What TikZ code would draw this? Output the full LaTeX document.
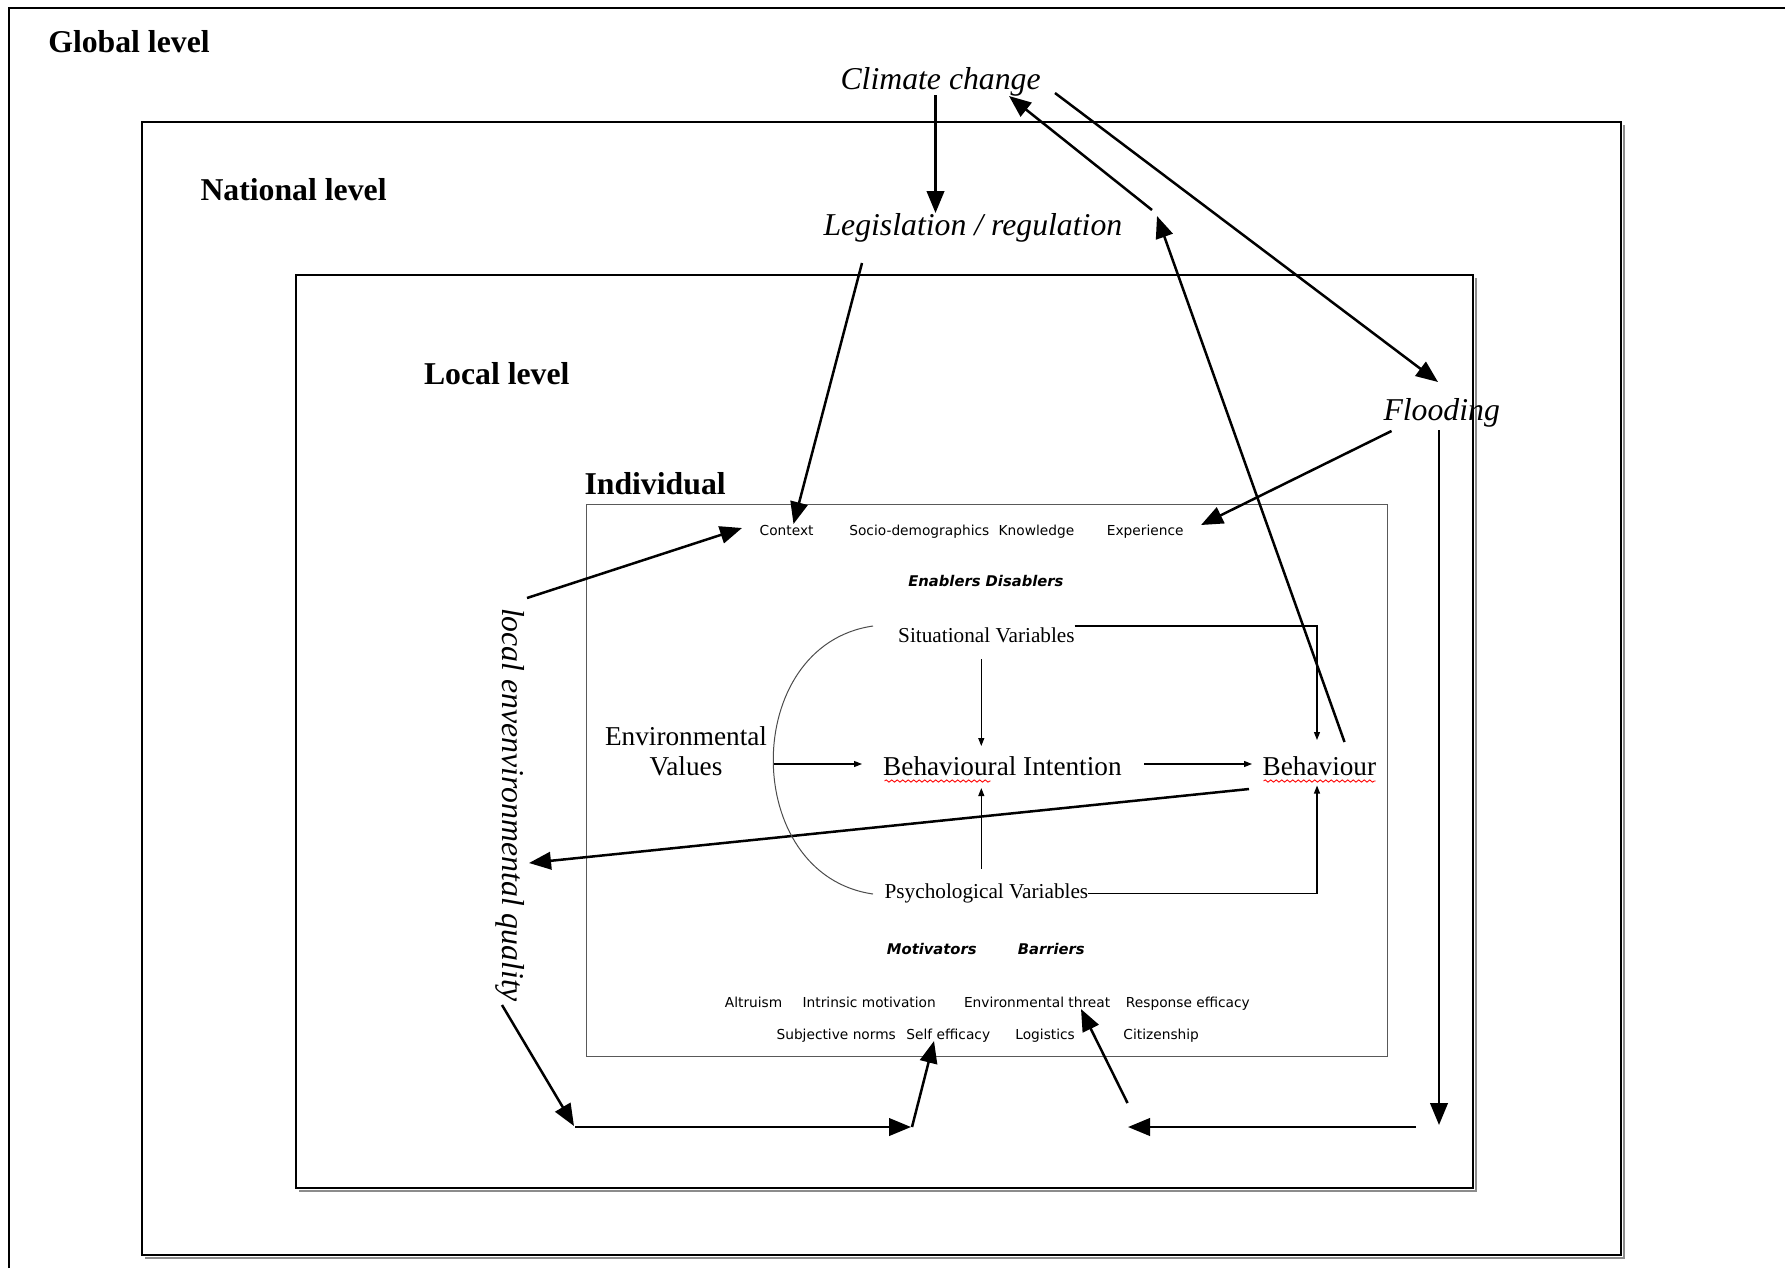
\documentclass[tikz,border=0pt]{standalone}
\usepackage{fontspec}
\setmainfont{Liberation Serif}
\newfontfamily\vsans{DejaVu Sans}
\usetikzlibrary{arrows.meta,decorations.pathmorphing}
\begin{document}
\begin{tikzpicture}[x=0.4pt,y=-0.4pt,
  lvl/.style={font=\fontsize{12.7}{14}\selectfont\bfseries, inner sep=0pt, anchor=base west},
  ital/.style={font=\fontsize{12.7}{14}\selectfont\itshape, inner sep=0pt, anchor=base west},
  small/.style={font=\vsans\fontsize{5.5}{6.6}\selectfont, inner sep=0pt, anchor=base},
  smallbi/.style={font=\vsans\fontsize{5.9}{7}\selectfont\bfseries\itshape, inner sep=0pt, anchor=base},
  mid/.style={font=\fontsize{10.9}{11.8}\selectfont, inner sep=0pt, anchor=base},
  var/.style={font=\fontsize{8.5}{10}\selectfont, inner sep=0pt, anchor=base},
  big/.style={line width=1pt, -{Triangle[length=8.8pt,width=7pt]}},
  thin/.style={line width=0.45pt, -{Triangle[length=3.2pt,width=2.4pt]}},
  box/.style={line width=0.8pt},
  shadowline/.style={line width=0.8pt, black!45},
  wavy/.style={red, line width=0.35pt, decorate, decoration={snake, amplitude=0.45pt, segment length=2.2pt}}
]
\useasboundingbox (0,0) rectangle (1785,1268);

% ---- level boxes ----
\draw[box] (9,1268) -- (9,8) -- (1785,8);
\draw[shadowline] (145,1257.5) -- (1624,1257.5) -- (1624,125);
\draw[box] (142,122) rectangle (1621,1254.5);
\draw[shadowline] (299,1190.5) -- (1476,1190.5) -- (1476,277.5);
\draw[box] (296,274.5) rectangle (1473,1187.5);
\draw[line width=0.55pt, black!65] (586.5,504.5) rectangle (1387.5,1056.5);

% ---- level labels ----
\node[lvl] (glob) at (47.8,52) {Global level};
\node[lvl] (nat) at (200,200.5) {National level};
\node[lvl] (loc) at (423.5,384.5) {Local level};
\node[lvl] (ind) at (584,494) {Individual};

% ---- italic drivers ----
\node[ital] (cc) at (840,89) {Climate change};
\node[ital] (leg) at (823,235) {Legislation / regulation};
\node[ital] (flood) at (1383,420) {Flooding};
\node[font=\fontsize{12.7}{14}\selectfont\itshape, inner sep=0pt, rotate=-90] (leq) at (510,805) {local envenvironmental quality};

% ---- individual box contents ----
\node[small] (ctx) at (786.6,535) {Context};
\node[small] (soc) at (919.3,535) {Socio-demographics};
\node[small] (know) at (1036.5,535) {Knowledge};
\node[small] (exp) at (1145.2,535) {Experience};
\node[smallbi] (enab) at (985.9,586) {Enablers Disablers};

\node[var] (sit) at (986.4,642) {Situational Variables};
\node[mid, align=center, anchor=center] (ev) at (686,751) {Environmental\\Values};
\node[mid] (bi) at (1002.4,775.5) {Behavioural Intention};
\node[mid] (beh) at (1319.4,775.5) {Behaviour};
\node[var] (psy) at (986.4,898) {Psychological Variables};

\node[smallbi, font=\vsans\fontsize{5.9}{7}\selectfont\bfseries\itshape] (mot) at (931.8,954) {Motivators};
\node[smallbi] (bar) at (1051.3,954) {Barriers};

\node[small] (alt) at (753.6,1007) {Altruism};
\node[small] (intr) at (869.2,1007) {Intrinsic motivation};
\node[small] (envt) at (1037.1,1007) {Environmental threat};
\node[small] (resp) at (1187.9,1007) {Response efficacy};
\node[small] (subj) at (836.2,1039) {Subjective norms};
\node[small] (selfe) at (948.3,1039) {Self efficacy};
\node[small] (logi) at (1045.1,1039) {Logistics};
\node[small] (citi) at (1161.2,1039) {Citizenship};

% spell-check underlines
\draw[wavy] (884.5,781) -- (990.5,781);
\draw[wavy] (1263.5,781) -- (1375.5,781);

% ---- connector end points ----
\coordinate (ccS) at (935.5,95);
\coordinate (legN) at (935.5,213);
\coordinate (legS) at (862,263);
\coordinate (ctxT) at (793.5,524);
\coordinate (behT) at (1344.5,742);
\coordinate (legE) at (1157,216);
\coordinate (legE2) at (1152,210);
\coordinate (ccE) at (1009,96);
\coordinate (ccR) at (1055,93);
\coordinate (floodT) at (1438,382);
\coordinate (floodL) at (1391.5,431);
\coordinate (expR) at (1201,525);
\coordinate (floodB) at (1439,430);
\coordinate (brDown) at (1439,1125);
\coordinate (brR) at (1416,1127);
\coordinate (brL) at (1128,1127);
\coordinate (thrB) at (1127.5,1103);
\coordinate (thrT) at (1081,1009);
\coordinate (leqB) at (502,1005);
\coordinate (blL) at (574,1126);
\coordinate (blL2) at (575,1127);
\coordinate (blR) at (911,1127);
\coordinate (blR2) at (912,1127);
\coordinate (selfB) at (934,1041);
\coordinate (leqT) at (527,598);
\coordinate (ctxL) at (742,528);
\coordinate (behL) at (1249,789);
\coordinate (leqR) at (529,863);

% ---- thick arrows ----
\draw[big] (ccS) -- (legN);
\draw[big] (legS) -- (ctxT);
\draw[big] (behT) -- (legE);
\draw[big] (legE2) -- (ccE);
\draw[big] (ccR) -- (floodT);
\draw[big] (floodL) -- (expR);
\draw[big] (floodB) -- (brDown);
\draw[big] (brR) -- (brL);
\draw[big] (thrB) -- (thrT);
\draw[big] (leqB) -- (blL);
\draw[big] (blL2) -- (blR);
\draw[big] (blR2) -- (selfB);
\draw[big] (leqT) -- (ctxL);
\draw[big] (behL) -- (leqR);

% ---- thin arrows inside individual box ----
\coordinate (sitB) at (981.3,659);
\coordinate (biT) at (981.3,746);
\coordinate (psyT) at (981.3,869);
\coordinate (biB) at (981.3,788);
\coordinate (evR) at (774,764);
\coordinate (biL) at (862,764);
\coordinate (biR) at (1144,764);
\coordinate (behLL) at (1252,764);
\coordinate (sitE) at (1074.7,626);
\coordinate (behTop) at (1317,740);
\coordinate (psyE) at (1088,893.6);
\coordinate (behBot) at (1317,785.5);

\draw[thin] (sitB) -- (biT);
\draw[thin] (psyT) -- (biB);
\draw[thin] (evR) -- (biL);
\draw[thin] (biR) -- (behLL);
\draw[thin] (sitE) -| (behTop);
\draw[thin] (psyE) -| (behBot);

% bracket arc
\coordinate (arcT) at (873,626);
\coordinate (arcB) at (873,894);
\draw[line width=0.4pt, black!70] (arcT) .. controls (740,645) and (740,875) .. (arcB);

\end{tikzpicture}
\end{document}
